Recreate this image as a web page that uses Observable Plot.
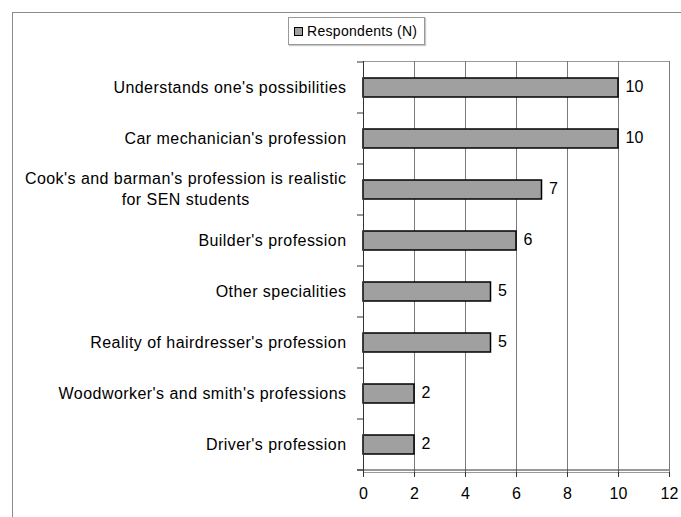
<!DOCTYPE html>
<html><head><meta charset="utf-8">
<script src="https://cdn.jsdelivr.net/npm/d3@7"></script>
<script src="https://cdn.jsdelivr.net/npm/@observablehq/plot@0.6"></script>
<style>
body{margin:0;background:#fff;font-family:"Liberation Sans",Arial,sans-serif}
#wrap{position:relative;width:681px;height:517px;overflow:hidden;background:#fff}
#frame{position:absolute;left:12px;top:12px;right:-2px;bottom:-2px;border-left:1px solid #8a8a8a;border-top:1px solid #8a8a8a}
#chart{position:absolute;left:0;top:0}
#legend{position:absolute;left:288px;top:17px;width:137px;height:28px;border:1px solid #999;box-shadow:1px 1px 1px #c8c8c8;display:flex;align-items:center;font-size:14px;letter-spacing:0.3px;color:#000;box-sizing:border-box;padding-left:5px;background:#fff;white-space:nowrap}
#legend .sw{width:7px;height:7px;background:#a0a0a0;border:1px solid #000;margin-right:4px}
.ylab text{letter-spacing:0.45px}
</style></head>
<body>
<div id="wrap"><div id="frame"></div><div id="chart"></div>
<div id="legend"><span class="sw"></span><span>Respondents (N)</span></div></div>
<script>
const categories = [
  "Understands one's possibilities",
  "Car mechanician's profession",
  "Cook's and barman's profession is realistic\nfor SEN students",
  "Builder's profession",
  "Other specialities",
  "Reality of hairdresser's profession",
  "Woodworker's and smith's professions",
  "Driver's profession"
];
const values = [10, 10, 7, 6, 5, 5, 2, 2];
const xTicks = [0, 2, 4, 6, 8, 10, 12];

const rows = categories.map((c, i) => ({category: c, value: values[i]}));

const chart = Plot.plot({
  width: 681, height: 517,
  marginLeft: 363, marginRight: 12, marginTop: 61, marginBottom: 45,
  style: {fontFamily: "Liberation Sans, Arial, sans-serif", fontSize: "16px", background: "transparent", color: "#000", overflow: "visible"},
  x: {domain: [0, 12], ticks: xTicks, label: null},
  y: {domain: categories, paddingInner: 0.62, paddingOuter: 0.31, label: null},
  marks: [
    Plot.frame({stroke: "#999"}),
    Plot.ruleX(xTicks, {stroke: "#7a7a7a", strokeWidth: 1}),
    Plot.barX(rows, {x: "value", y: "category", fill: "#a0a0a0", stroke: "#000", strokeWidth: 1.5}),
    Plot.text(rows, {x: "value", y: "category", text: d => String(d.value), dx: 7, dy: -1, textAnchor: "start", fill: "#000", fontSize: 16}),
    Plot.axisX({ticks: xTicks, tickSize: 5, tickPadding: 10, label: null, stroke: "#333", fontSize: 16}),
    Plot.axisY({tickSize: 0, tickPadding: 17, dy: -2, lineHeight: 1.3, label: null, fill: "#000", fontSize: 16, className: "ylab"}),
    Plot.ruleX([0], {stroke: "#333", strokeWidth: 1})
  ]
});
document.getElementById("chart").appendChild(chart);

// Excel-style category separators and bottom axis line, derived from Plot's scales
const ys = chart.scale("y"), xs = chart.scale("x");
const gap = ys.step - ys.bandwidth;
const bounds = categories.map(c => ys.apply(c) - gap / 2);
bounds.push(bounds[bounds.length - 1] + ys.step);
const x0 = xs.apply(0), x1 = xs.apply(12);
const svg = d3.select(chart);
const g = svg.append("g").attr("stroke", "#333").attr("stroke-width", 1);
bounds.forEach(b => g.append("line").attr("x1", x0 - 6).attr("x2", x0).attr("y1", b).attr("y2", b));
g.append("line").attr("x1", x0 - 6).attr("x2", x1).attr("y1", bounds[bounds.length - 1]).attr("y2", bounds[bounds.length - 1]);

// center multi-line category labels within their block (Excel style)
svg.selectAll("text").each(function() {
  const spans = this.querySelectorAll("tspan");
  if (spans.length > 1) {
    let w = 0;
    spans.forEach(s => { w = Math.max(w, s.getComputedTextLength()); });
    this.setAttribute("text-anchor", "middle");
    spans.forEach(s => s.setAttribute("x", -w / 2));
  }
});
</script>
</body></html>
